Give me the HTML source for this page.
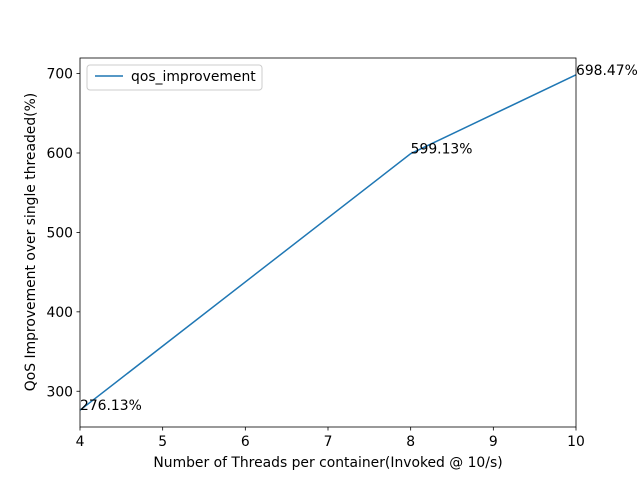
<!DOCTYPE html>
<html><head><meta charset="utf-8"><style>
body{margin:0;background:#fff;}
svg{display:block;font-family:"DejaVu Sans","Liberation Sans",sans-serif;}
</style></head><body>
<svg id="chart" width="640" height="480">
<rect x="0" y="0" width="640" height="480" fill="#fff"/>
<g id="ticks"></g>
<polyline id="line" fill="none" stroke="#1f77b4" stroke-width="1.5"/>
<g id="ann"></g>
<rect x="80" y="58" width="496" height="369" fill="none" stroke="#000" stroke-width="0.8"/>
<text x="328" y="467" text-anchor="middle" font-size="13.9">Number of Threads per container(Invoked @ 10/s)</text>
<text transform="translate(35,242) rotate(-90)" text-anchor="middle" font-size="13.9">QoS Improvement over single threaded(%)</text>
<g>
<rect x="87" y="65" width="175" height="25" rx="3" fill="#fff" stroke="#ccc" stroke-width="1"/>
<line x1="95" y1="76" x2="123" y2="76" stroke="#1f77b4" stroke-width="1.5"/>
<text x="131" y="81" font-size="13.9">qos_improvement</text>
</g>
</svg>
<script>
const xs=[4,8,10];
const ys=[276.13,599.13,698.47];
const labels=["276.13%","599.13%","698.47%"];
const xTicks=[4,5,6,7,8,9,10];
const yTicks=[300,400,500,600,700];
const X0=80,X1=576,Y0=427,Y1=58;
const xmin=4,xmax=10,ymin=255.0,ymax=719.6;
const sx=v=>X0+(v-xmin)/(xmax-xmin)*(X1-X0);
const sy=v=>Y0-(v-ymin)/(ymax-ymin)*(Y0-Y1);
const NS="http://www.w3.org/2000/svg";
const tg=document.getElementById('ticks');
function mk(t,a,p){const e=document.createElementNS(NS,t);for(const k in a)e.setAttribute(k,a[k]);p.appendChild(e);return e;}
xTicks.forEach(v=>{
 const l=mk('line',{x1:sx(v),x2:sx(v),y1:Y0,y2:Y0+3.5,stroke:'#000','stroke-width':0.8},tg);
 
 
 const t=mk('text',{x:sx(v),y:Y0+19,'text-anchor':'middle','font-size':13.9},tg);
 t.textContent=v;
 
 
});
yTicks.forEach(v=>{
 const l=mk('line',{x1:X0-3.5,x2:X0,y1:sy(v),y2:sy(v),stroke:'#000','stroke-width':0.8},tg);
 
 
 const t=mk('text',{x:X0-7,y:sy(v)+5,'text-anchor':'end','font-size':13.9},tg);
 t.textContent=v;
 
 
});
document.getElementById('line').setAttribute('points',xs.map((x,i)=>sx(x)+','+sy(ys[i])).join(' '));
const ag=document.getElementById('ann');
xs.forEach((x,i)=>{
 const t=mk('text',{x:sx(x),y:sy(ys[i])+0,'font-size':13.9},ag);
 t.textContent=labels[i];
 
 
});
</script>
</body></html>
